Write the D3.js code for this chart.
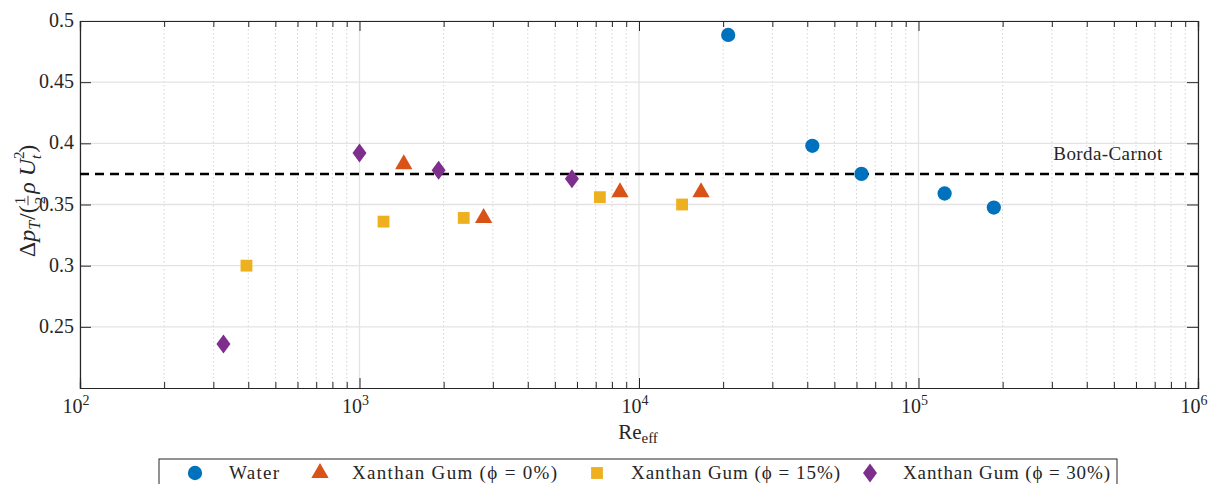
<!DOCTYPE html>
<html>
<head>
<meta charset="utf-8">
<script src="https://cdn.jsdelivr.net/npm/d3@7"></script>
<style>
  body { margin: 0; background: #fff; }
  text { font-family: "Liberation Serif", "DejaVu Serif", serif; fill: #262626; }
</style>
</head>
<body>
<div id="chart"></div>
<script>
// data
var waterRe = [20850, 41700, 62500, 124000, 186000];
var waterDp = [0.4886, 0.398, 0.375, 0.359, 0.3475];
var xg0Re = [1440, 2780, 8550, 16670];
var xg0Dp = [0.383, 0.339, 0.360, 0.360];
var xg15Re = [394, 1219, 2360, 7245, 14260];
var xg15Dp = [0.300, 0.336, 0.339, 0.356, 0.350];
var xg30Re = [326, 1000, 1919, 5755];
var xg30Dp = [0.236, 0.392, 0.378, 0.371];
var bordaCarnot = 0.375;
var yTicks = [0.25, 0.3, 0.35, 0.4, 0.45, 0.5];
var xDecades = [2, 3, 4, 5, 6];
var seriesNames = ["Water", "Xanthan Gum (\u03d5 = 0%)", "Xanthan Gum (\u03d5 = 15%)", "Xanthan Gum (\u03d5 = 30%)"];
var colors = ["#0072BD", "#D95319", "#EDB120", "#7E2F8E"];

var W = 1209, H = 484;
var m = {left: 80, right: 1198, top: 21, bottom: 388};

var svg = d3.select("#chart").append("svg")
    .attr("width", W)
    .attr("height", H);

var x = d3.scaleLog().domain([1e2, 1e6]).range([m.left, m.right]);
var y = d3.scaleLinear().domain([0.2, 0.5]).range([m.bottom, m.top]);

// minor positions
var minors = [];
for (var d = 2; d < 6; d++) {
    for (var k = 2; k < 10; k++) minors.push(k * Math.pow(10, d));
}
var majors = xDecades.map(function(v) { return Math.pow(10, v); });

// grid
svg.append("g").selectAll("line").data(minors).enter().append("line")
    .attr("x1", function(v) { return x(v); }).attr("x2", function(v) { return x(v); })
    .attr("y1", m.top).attr("y2", m.bottom)
    .style("stroke", "#d4d4d4").style("stroke-width", 1).style("stroke-dasharray", "1.5,2.5");
svg.append("g").selectAll("line").data(majors).enter().append("line")
    .attr("x1", function(v) { return x(v); }).attr("x2", function(v) { return x(v); })
    .attr("y1", m.top).attr("y2", m.bottom)
    .style("stroke", "#e3e3e3").style("stroke-width", 1.3);
svg.append("g").selectAll("line").data(yTicks).enter().append("line")
    .attr("x1", m.left).attr("x2", m.right)
    .attr("y1", function(v) { return y(v); }).attr("y2", function(v) { return y(v); })
    .style("stroke", "#e3e3e3").style("stroke-width", 1.3);

// axes, ticks pointing inward
var axC = "#262626";
var gb = svg.append("g").attr("transform", "translate(0," + m.bottom + ")")
    .call(d3.axisTop(x).tickValues(majors).tickSize(10).tickFormat(""));
var gbm = svg.append("g").attr("transform", "translate(0," + m.bottom + ")")
    .call(d3.axisTop(x).tickValues(minors).tickSize(6).tickFormat(""));
var gt = svg.append("g").attr("transform", "translate(0," + m.top + ")")
    .call(d3.axisBottom(x).tickValues(majors).tickSize(10).tickFormat(""));
var gtm = svg.append("g").attr("transform", "translate(0," + m.top + ")")
    .call(d3.axisBottom(x).tickValues(minors).tickSize(6).tickFormat(""));
var gl = svg.append("g").attr("transform", "translate(" + m.left + ",0)")
    .call(d3.axisRight(y).tickValues(yTicks).tickSize(11).tickFormat(""));
var gr = svg.append("g").attr("transform", "translate(" + m.right + ",0)")
    .call(d3.axisLeft(y).tickValues(yTicks).tickSize(11).tickFormat(""));
[gb, gbm, gt, gtm, gl, gr].forEach(function(g) {
    g.selectAll("line").style("stroke", axC);
    g.selectAll("path").style("stroke", axC).style("stroke-width", 1.2);
});

// tick labels
svg.append("g").selectAll("text").data(yTicks).enter().append("text")
    .attr("x", m.left - 6).attr("y", function(v) { return y(v) + 6; })
    .attr("text-anchor", "end").style("font-size", "20px")
    .text(function(v) { return v; });

var xl = svg.append("g").selectAll("text").data(xDecades).enter().append("text")
    .attr("x", function(v) { return x(Math.pow(10, v)) - 4; }).attr("y", 413)
    .attr("text-anchor", "middle").style("font-size", "20px");
xl.append("tspan").text("10");
xl.append("tspan").attr("dy", -8).style("font-size", "14px").text(function(v) { return v; });

// axis titles
var xt = svg.append("text").attr("x", 638).attr("y", 439).attr("text-anchor", "middle").style("font-size", "21px");
xt.append("tspan").text("Re");
xt.append("tspan").attr("dy", 4).style("font-size", "15px").text("eff");

// y title built piece by piece, rotated
var yg = svg.append("g");
var cx = 0;
function piece(str, opts) {
    opts = opts || {};
    var t = yg.append("text").attr("x", cx).attr("y", opts.dy || 0)
        .style("font-size", (opts.size || 24) + "px")
        .style("font-style", opts.it ? "italic" : "normal")
        .text(str);
    var w = t.node().getComputedTextLength();
    if (!opts.keep) cx += w;
    return w;
}
piece("\u0394");
piece("p", {it: true});
piece("T", {it: true, size: 16, dy: 5});
cx += 1;
piece("/(");
var fx = cx + 1;
cx = fx;
var w1 = piece("1", {size: 15, dy: -10, keep: true});
piece("2", {size: 15, dy: 10});
yg.append("line").attr("x1", fx - 1).attr("x2", fx + w1 + 1).attr("y1", -7).attr("y2", -7)
    .style("stroke", "#262626").style("stroke-width", 0.9);
cx += 3;
piece("\u03c1", {it: true});
cx += 6;
piece("U", {it: true});
piece("2", {size: 15, dy: -11, keep: true});
piece("t", {it: true, size: 15, dy: 6});
cx += 2;
piece(")");
yg.attr("transform", "translate(35," + (201 + cx / 2) + ") rotate(-90)");

// Borda-Carnot line
svg.append("line")
    .attr("x1", m.left).attr("x2", m.right)
    .attr("y1", y(bordaCarnot)).attr("y2", y(bordaCarnot))
    .style("stroke", "#000").style("stroke-width", 2.5).style("stroke-dasharray", "9,6");
svg.append("text").attr("x", 1108).attr("y", 160).attr("text-anchor", "middle")
    .style("font-size", "19px").style("letter-spacing", "0.4px").text("Borda-Carnot");

// markers
var symbols = [
    d3.symbol().type(d3.symbolCircle).size(160),
    d3.symbol().type(d3.symbolTriangle).size(130),
    d3.symbol().type(d3.symbolSquare).size(140),
    null
];
function marker(g, i) {
    if (i === 3) {
        g.append("path").attr("d", "M0,-9.5L7,0L0,9.5L-7,0Z");
    } else {
        g.append("path").attr("d", symbols[i]());
    }
    g.select("path").style("fill", colors[i]);
}

var series = [
    [waterRe, waterDp], [xg0Re, xg0Dp], [xg15Re, xg15Dp], [xg30Re, xg30Dp]
];
series.forEach(function(s, i) {
    s[0].forEach(function(re, j) {
        var g = svg.append("g")
            .attr("transform", "translate(" + x(re) + "," + y(s[1][j]) + ")");
        marker(g, i);
    });
});

// legend
var lg = svg.append("g");
lg.append("rect").attr("x", 159).attr("y", 459).attr("width", 958).attr("height", 40)
    .style("fill", "#fff").style("stroke", "#262626").style("stroke-width", 1);
var legX = [195, 320, 597, 870];
var legTx = [229, 352, 631, 903];
var legW = [50, 205, 209, 207];
seriesNames.forEach(function(n, i) {
    var g = lg.append("g").attr("transform", "translate(" + legX[i] + ",473)");
    marker(g, i);
    lg.append("text").attr("x", legTx[i]).attr("y", 479).style("font-size", "19px")
        .attr("textLength", legW[i]).attr("lengthAdjust", "spacing").text(n);
});
</script>
</body>
</html>
